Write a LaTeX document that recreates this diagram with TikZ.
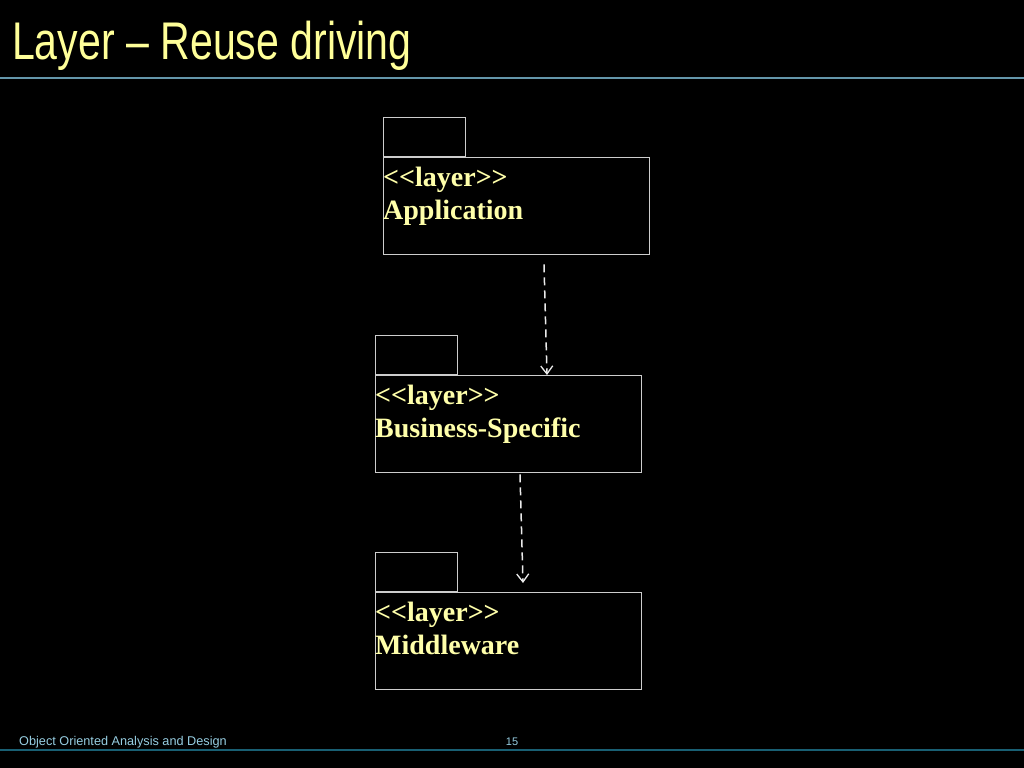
\documentclass[tikz,border=0pt]{standalone}
\usepackage{fontspec}
\setmainfont{Liberation Serif}
\newfontfamily\arialfont{Liberation Sans}
\newfontfamily\pkgfont{Liberation Serif}
\usetikzlibrary{arrows.meta,calc}
\definecolor{titleyellow}{RGB}{255,255,153}
\definecolor{textyellow}{RGB}{255,255,170}
\definecolor{rulecol}{RGB}{100,150,170}
\definecolor{footrule}{RGB}{25,95,115}
\definecolor{foottext}{RGB}{150,205,225}
\definecolor{boxline}{RGB}{205,205,205}
\tikzset{
  pkgbody/.style={draw=boxline, line width=1.3bp, minimum width=266bp, minimum height=97bp, inner sep=0pt, anchor=north west},
  pkgtab/.style={draw=boxline, line width=1.3bp, minimum width=82bp, minimum height=39bp, inner sep=0pt, anchor=south west},
  pkgtext/.style={text=textyellow, font=\pkgfont\fontsize{28bp}{33bp}\selectfont\bfseries, anchor=base west, inner sep=0pt},
  dep/.style={draw=white!92!black, line width=1.5bp, dash pattern=on 8bp off 5bp, -{Straight Barb[length=8bp,width=12bp,line width=1.3bp]}}
}
\begin{document}
\begin{tikzpicture}[x=1bp,y=-1bp]
\fill[black] (0,0) rectangle (1024,768);
\useasboundingbox (0,0) rectangle (1024,768);
% title
\node[anchor=base west, inner sep=0pt, text=titleyellow, font=\arialfont\fontsize{53bp}{60bp}\selectfont, xscale=0.775] (title) at (12,60) {Layer – Reuse driving};
\draw[rulecol, line width=1.2bp] (0,78) coordinate (tl) -- (1024,78) coordinate (tr);
% packages
\node[pkgbody] (app) at (383,157) {};
\node[pkgtab] (apptab) at (app.north west) {};
\node[pkgtext] (appst) at ($(app.north west)+(0,29)$) {<<layer>>};
\node[pkgtext] (appname) at ($(app.north west)+(0,62)$) {Application};

\node[pkgbody] (bus) at (375,375) {};
\node[pkgtab] (bustab) at (bus.north west) {};
\node[pkgtext] (busst) at ($(bus.north west)+(0,29)$) {<<layer>>};
\node[pkgtext] (busname) at ($(bus.north west)+(0,62)$) {Business-Specific};

\node[pkgbody] (mid) at (375,592) {};
\node[pkgtab] (midtab) at (mid.north west) {};
\node[pkgtext] (midst) at ($(mid.north west)+(0,29)$) {<<layer>>};
\node[pkgtext] (midname) at ($(mid.north west)+(0,62)$) {Middleware};
% dependencies
\coordinate (a1s) at ($(app.south west)+(161,9)$);
\coordinate (a1e) at ($(bus.north west)+(172,0)$);
\draw[dep] (a1s) -- (a1e);
\coordinate (a2s) at ($(bus.south west)+(145,1)$);
\coordinate (a2e) at ($(mid.north west)+(148,-9)$);
\draw[dep] (a2s) -- (a2e);
% footer
\node[anchor=base west, inner sep=0pt, text=foottext, font=\arialfont\fontsize{12.7bp}{14bp}\selectfont] (foot) at (19,745) {Object Oriented Analysis and Design};
\node[anchor=base, inner sep=0pt, text=foottext, font=\arialfont\fontsize{11bp}{14bp}\selectfont] (page) at (512,745) {15};
\draw[footrule, line width=1.5bp] (0,750) coordinate (fl) -- (1024,750) coordinate (fr);
\end{tikzpicture}
\end{document}
